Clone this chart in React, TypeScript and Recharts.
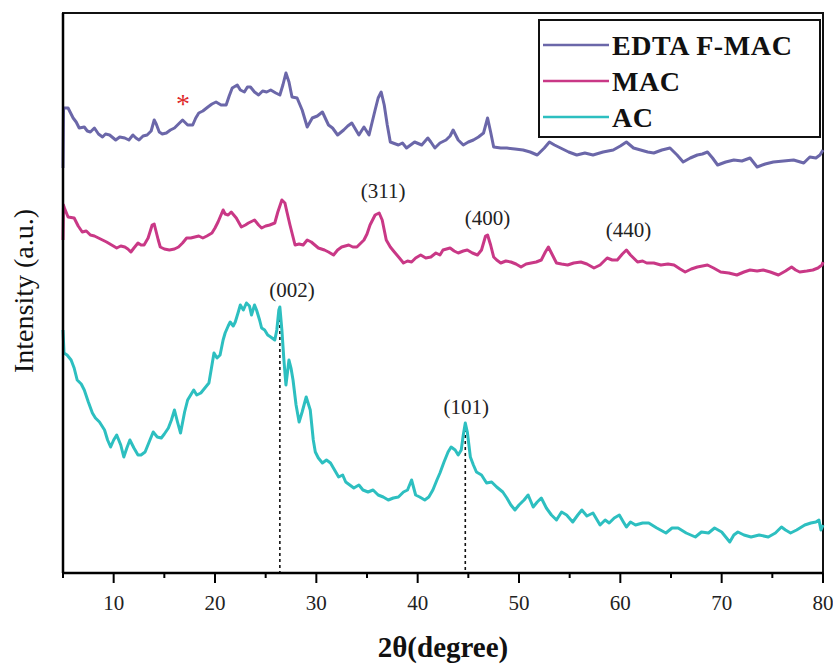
import React from 'react';
import { LineChart, Line, XAxis, YAxis, ReferenceLine, ReferenceDot, ReferenceArea } from 'recharts';

// [2θ, intensity]; intensities are arbitrary, stacked by offset
const edtaPoints: [number, number][] = [
  [5.0, 405], [5.05, 465], [5.5, 465], [6.0, 455], [6.3, 451], [6.6, 445], [7.1, 446], [7.4, 442], [7.7, 441],
  [8.1, 445], [8.5, 439], [8.9, 436], [9.2, 439], [9.6, 438], [10.2, 433], [10.6, 436], [11.1, 435], [11.5, 433],
  [11.9, 438], [12.2, 435], [12.5, 433], [12.9, 437], [13.3, 438], [13.7, 442], [14.0, 453], [14.2, 449],
  [14.5, 441], [14.8, 439], [15.2, 440], [15.6, 443], [16.0, 445], [16.4, 449], [16.8, 453], [17.3, 448],
  [17.8, 448], [18.1, 455], [18.4, 460], [18.8, 462], [19.3, 466], [19.7, 469], [20.1, 471], [20.6, 468],
  [21.1, 468], [21.4, 477], [21.7, 485], [22.2, 488], [22.5, 483], [22.9, 481], [23.2, 486], [23.5, 486],
  [23.9, 481], [24.3, 478], [24.7, 482], [25.1, 481], [25.5, 483], [26.0, 480], [26.4, 478], [26.7, 488],
  [27.0, 500], [27.3, 491], [27.6, 476], [28.1, 475], [28.6, 463], [29.1, 446], [29.6, 455], [30.1, 457],
  [30.6, 461], [31.2, 448], [31.6, 445], [32.1, 438], [32.7, 443], [33.1, 447], [33.5, 450], [34.2, 438],
  [34.7, 446], [35.2, 438], [35.8, 463], [36.1, 475], [36.4, 481], [36.7, 468], [37.0, 448], [37.3, 431],
  [38.1, 428], [38.5, 430], [38.9, 425], [39.3, 428], [39.7, 431], [40.4, 428], [41.0, 435], [41.3, 431],
  [41.7, 425], [42.2, 430], [42.8, 433], [43.2, 437], [43.5, 443], [44.0, 433], [44.5, 428], [45.0, 431],
  [45.5, 433], [46.0, 436], [46.5, 440], [46.9, 455], [47.2, 441], [47.5, 426], [48.2, 425], [48.8, 425],
  [49.6, 424], [50.4, 423], [51.1, 421], [51.8, 418], [52.5, 425], [53.0, 431], [53.5, 428], [54.1, 425],
  [54.9, 421], [55.7, 418], [56.5, 420], [57.3, 418], [58.3, 421], [59.3, 423], [60.0, 427], [60.6, 431],
  [61.3, 425], [62.0, 423], [62.7, 421], [63.3, 420], [64.1, 423], [64.9, 425], [65.6, 418], [66.2, 411],
  [66.9, 415], [67.6, 418], [68.1, 419], [68.6, 421], [69.1, 415], [69.6, 408], [70.4, 411], [71.2, 413],
  [72.0, 412], [72.8, 415], [73.5, 406], [74.3, 409], [75.1, 411], [76.1, 412], [77.1, 413], [78.1, 410],
  [78.7, 416], [79.3, 415], [79.7, 418], [80.0, 423],
];

const macPoints: [number, number][] = [
  [5.0, 333], [5.05, 368], [5.1, 366], [5.5, 356], [6.1, 355], [6.5, 347], [6.9, 341], [7.3, 342], [7.7, 338],
  [8.1, 337], [8.5, 335], [8.9, 333], [9.3, 331], [9.8, 328], [10.3, 325], [10.7, 327], [11.1, 326], [11.4, 324],
  [11.7, 321], [12.0, 325], [12.4, 330], [12.7, 328], [13.0, 328], [13.4, 335], [13.8, 348], [14.0, 349],
  [14.2, 341], [14.4, 333], [14.6, 326], [15.0, 324], [15.5, 323], [16.0, 324], [16.4, 326], [16.8, 330],
  [17.2, 335], [17.6, 335], [18.0, 336], [18.4, 337], [18.8, 335], [19.2, 337], [19.7, 340], [20.0, 345],
  [20.3, 351], [20.8, 363], [21.0, 359], [21.3, 358], [21.6, 361], [22.1, 355], [22.6, 346], [23.0, 348],
  [23.3, 350], [23.9, 353], [24.3, 348], [24.6, 345], [25.0, 347], [25.4, 348], [25.9, 350], [26.2, 361],
  [26.6, 373], [26.9, 370], [27.1, 361], [27.4, 348], [27.9, 328], [28.3, 329], [28.7, 328], [29.1, 333],
  [29.5, 331], [30.2, 325], [30.8, 323], [31.2, 321], [31.7, 318], [32.1, 323], [32.5, 326], [33.2, 328],
  [33.6, 326], [34.0, 326], [34.4, 330], [34.7, 333], [35.0, 339], [35.3, 348], [35.8, 358], [36.2, 360],
  [36.5, 353], [36.9, 333], [37.3, 326], [37.7, 321], [38.2, 315], [38.6, 310], [39.0, 312], [39.4, 311],
  [39.8, 315], [40.3, 318], [40.8, 315], [41.3, 316], [41.8, 320], [42.2, 318], [42.5, 323], [43.2, 325],
  [43.6, 322], [44.0, 320], [44.5, 322], [44.9, 323], [45.4, 320], [45.9, 318], [46.3, 323], [46.7, 337],
  [46.9, 338], [47.2, 328], [47.5, 316], [47.8, 313], [48.2, 310], [48.7, 312], [49.2, 311], [49.7, 309],
  [50.2, 306], [50.7, 309], [51.2, 310], [51.7, 311], [52.2, 313], [52.6, 321], [52.9, 326], [53.3, 318],
  [53.7, 310], [54.2, 309], [54.8, 308], [55.4, 310], [56.1, 311], [56.7, 309], [57.4, 305], [58.0, 308],
  [58.7, 315], [59.2, 313], [59.7, 313], [60.2, 319], [60.6, 323], [61.0, 318], [61.7, 311], [62.2, 312],
  [62.6, 310], [63.3, 310], [64.0, 308], [64.7, 309], [65.3, 308], [65.9, 304], [66.4, 301], [67.0, 304],
  [67.6, 306], [68.1, 307], [68.6, 308], [69.2, 305], [69.9, 301], [70.7, 300], [71.5, 298], [72.2, 301],
  [72.8, 303], [73.5, 302], [74.1, 303], [74.8, 301], [75.6, 298], [76.3, 302], [76.9, 306], [77.3, 303],
  [77.7, 301], [78.4, 302], [79.0, 303], [79.5, 305], [79.9, 308], [80.0, 311],
];

const acPoints: [number, number][] = [
  [5.0, 243], [5.1, 220], [5.4, 218], [5.8, 213], [6.1, 205], [6.4, 193], [6.8, 189], [7.1, 183], [7.5, 171],
  [7.9, 160], [8.2, 155], [8.6, 151], [9.1, 143], [9.4, 133], [9.7, 126], [10.0, 133], [10.3, 138], [10.7, 128],
  [11.0, 116], [11.3, 125], [11.6, 133], [12.0, 125], [12.4, 118], [12.7, 118], [13.1, 121], [13.5, 131],
  [13.9, 141], [14.3, 136], [14.7, 135], [15.0, 139], [15.4, 145], [15.7, 153], [16.0, 163], [16.3, 151],
  [16.6, 140], [17.0, 161], [17.3, 173], [17.6, 178], [17.9, 183], [18.2, 178], [18.6, 180], [19.0, 185],
  [19.4, 190], [19.7, 208], [19.9, 220], [20.2, 215], [20.5, 218], [20.8, 233], [21.0, 240], [21.3, 247],
  [21.5, 251], [21.8, 247], [22.0, 251], [22.3, 261], [22.5, 268], [22.8, 263], [23.1, 270], [23.4, 267],
  [23.6, 258], [23.9, 268], [24.1, 263], [24.4, 253], [24.6, 245], [24.9, 243], [25.2, 238], [25.5, 236],
  [25.9, 233], [26.1, 243], [26.3, 263], [26.4, 266], [26.6, 243], [26.8, 213], [27.0, 188], [27.3, 213],
  [27.5, 205], [27.7, 193], [28.0, 168], [28.3, 151], [28.6, 161], [29.0, 176], [29.4, 163], [29.7, 133],
  [29.9, 121], [30.2, 115], [30.6, 110], [31.0, 113], [31.4, 110], [31.8, 103], [32.2, 96], [32.6, 98],
  [32.9, 91], [33.3, 88], [33.7, 85], [34.2, 88], [34.6, 83], [35.1, 81], [35.6, 83], [36.1, 78], [36.6, 76],
  [37.1, 73], [37.6, 75], [38.1, 76], [38.6, 81], [39.0, 83], [39.4, 93], [39.8, 78], [40.2, 76], [40.7, 73],
  [41.1, 76], [41.5, 83], [41.9, 93], [42.2, 100], [42.6, 111], [43.0, 121], [43.3, 126], [43.7, 123],
  [44.0, 118], [44.3, 123], [44.5, 138], [44.7, 150], [44.9, 141], [45.2, 116], [45.5, 108], [45.8, 101],
  [46.3, 98], [46.8, 90], [47.3, 91], [47.8, 86], [48.4, 81], [48.8, 75], [49.2, 68], [49.6, 63], [50.0, 68],
  [50.5, 73], [50.9, 78], [51.4, 66], [51.8, 71], [52.2, 75], [52.7, 65], [53.2, 58], [53.7, 53], [54.2, 61],
  [54.7, 58], [55.3, 51], [55.8, 58], [56.2, 63], [56.7, 57], [57.3, 60], [58.0, 48], [58.5, 53], [58.9, 50],
  [59.4, 55], [59.9, 58], [60.3, 51], [60.6, 46], [61.0, 51], [61.5, 48], [62.2, 50], [62.8, 50], [63.6, 45],
  [64.5, 40], [65.1, 45], [65.7, 45], [66.5, 40], [67.4, 36], [68.0, 41], [68.7, 40], [69.3, 45], [70.0, 41],
  [70.8, 31], [71.2, 38], [71.6, 41], [72.2, 38], [72.9, 36], [73.7, 38], [74.6, 36], [75.3, 40], [75.9, 46],
  [76.3, 43], [76.8, 40], [77.4, 43], [78.2, 48], [78.8, 50], [79.3, 51], [79.6, 53], [79.8, 43], [80.0, 48],
];

const seriesNames = ['EDTA F-MAC', 'MAC', 'AC'];
const seriesColors = ['#6b67a9', '#c93886', '#2dbfc0'];

const xTicks = [5, 10, 15, 20, 25, 30, 35, 40, 45, 50, 55, 60, 65, 70, 75, 80];

// peak labels: [2θ, intensity, text]
const peakLabels: [number, number, string][] = [
  [27.6, 283, '(002)'],
  [44.8, 166, '(101)'],
  [36.6, 382, '(311)'],
  [46.9, 355, '(400)'],
  [60.8, 343, '(440)'],
];
// dotted drop lines: [2θ, top intensity]
const dropLines: [number, number][] = [
  [26.4, 266],
  [44.7, 150],
];
const starMark: [number, number] = [16.85, 470];

const serif = '"Liberation Serif", "Times New Roman", serif';

const toRows = (pts: [number, number][]) => pts.map(([x, v]) => ({ x, v }));
const seriesData = [toRows(edtaPoints), toRows(macPoints), toRows(acPoints)];

const XTick = (props: any) => {
  const { x, y, payload } = props;
  const major = payload.value % 10 === 0;
  return (
    <g>
      <line x1={x} x2={x} y1={y} y2={y + (major ? 10 : 5)} stroke="#000" strokeWidth={2} />
      {major && (
        <text x={x} y={y + 37} textAnchor="middle" fontFamily={serif} fontSize={21} fill="#222">
          {payload.value}
        </text>
      )}
    </g>
  );
};

const Legend = () => (
  <div
    style={{
      position: 'absolute',
      left: 538,
      top: 19,
      width: 283,
      height: 119,
      boxSizing: 'border-box',
      border: '2px solid #111',
      background: '#fff',
    }}
  >
    <svg width={279} height={115}>
      {seriesNames.map((name, i) => {
        const cy = 24 + i * 36;
        return (
          <g key={name}>
            <line x1={3} x2={69} y1={cy} y2={cy} stroke={seriesColors[i]} strokeWidth={2.5} />
            <text
              x={72}
              y={cy + 10}
              fontFamily={serif}
              fontWeight="bold"
              fontSize={28}
              letterSpacing={0.6}
              fill="#111"
            >
              {name}
            </text>
          </g>
        );
      })}
    </svg>
  </div>
);

export default function App() {
  return (
    <div style={{ position: 'absolute', left: 0, top: 0, width: 833, height: 664, background: '#fff' }}>
      <LineChart width={833} height={664} margin={{ top: 13, right: 10, bottom: 0, left: 8 }}>
        <XAxis
          type="number"
          dataKey="x"
          domain={[5, 80]}
          ticks={xTicks}
          interval={0}
          tick={<XTick />}
          tickLine={false}
          tickSize={0}
          tickMargin={0}
          height={91}
          axisLine={{ stroke: '#000', strokeWidth: 2.5 }}
          allowDuplicatedCategory={false}
          label={() => (
            <text x={443} y={657} textAnchor="middle" fontFamily={serif} fontWeight="bold" fontSize={29} fill="#111">
              2θ(degree)
            </text>
          )}
        />
        <YAxis
          type="number"
          domain={[0, 560]}
          width={55}
          tick={false}
          tickLine={false}
          axisLine={{ stroke: '#000', strokeWidth: 2.5 }}
          label={() => (
            <text
              x={23}
              y={291}
              transform="rotate(-90 23 291)"
              textAnchor="middle"
              dominantBaseline="central"
              fontFamily={serif}
              fontSize={28}
              fill="#111"
            >
              Intensity (a.u.)
            </text>
          )}
        />
        <ReferenceArea x1={5} x2={80} y1={0} y2={560} fill="none" stroke="#111" strokeWidth={2} ifOverflow="visible" />
        {dropLines.map(([x, top]) => (
          <ReferenceLine
            key={x}
            segment={[{ x, y: top }, { x, y: 0 }]}
            stroke="#111"
            strokeWidth={1.6}
            strokeDasharray="3 3"
          />
        ))}
        {seriesData.map((rows, i) => (
          <Line
            key={seriesNames[i]}
            data={rows}
            dataKey="v"
            name={seriesNames[i]}
            type="linear"
            stroke={seriesColors[i]}
            strokeWidth={3}
            strokeLinejoin="round"
            dot={false}
            activeDot={false}
            isAnimationActive={false}
          />
        ))}
        {peakLabels.map(([x, y, text]) => (
          <ReferenceDot
            key={text}
            x={x}
            y={y}
            r={0}
            fill="none"
            stroke="none"
            label={{ value: text, position: 'center', fontFamily: serif, fontSize: 21, fill: '#222' }}
          />
        ))}
        <ReferenceDot
          x={starMark[0]}
          y={starMark[1]}
          r={0}
          fill="none"
          stroke="none"
          label={{ value: '*', position: 'center', fontFamily: serif, fontSize: 28, fill: '#e02a2a' }}
        />
      </LineChart>
      <Legend />
    </div>
  );
}
